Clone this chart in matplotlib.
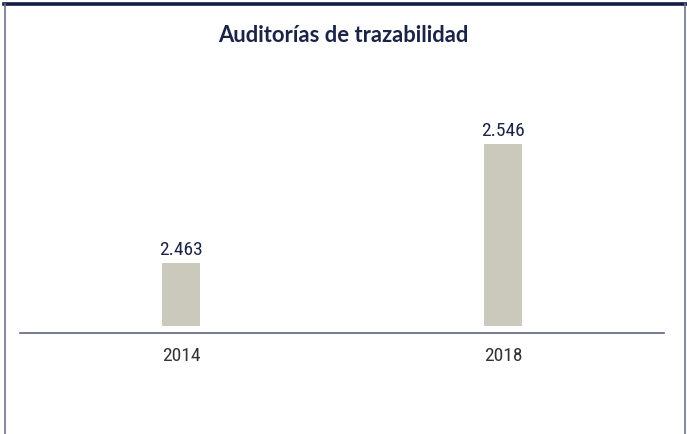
import matplotlib
matplotlib.use("Agg")
import matplotlib.pyplot as plt
from matplotlib.lines import Line2D

years = ["2014", "2018"]
audits = [2463, 2546]
value_labels = ["2.463", "2.546"]

NAVY = "#1b2447"
BAR = "#cbc9bb"
AXIS = "#5d6280"
FRAME = "#121c45"
NUM_FONT = ["Roboto Condensed", "DejaVu Sans"]
TITLE_FONT = ["Lato", "DejaVu Sans"]

fig = plt.figure(figsize=(6.87, 4.34), dpi=100)
W, H = 687, 434


def fx(px):
    return px / W


def fy(py):
    return 1 - py / H


ax = fig.add_axes([fx(20), fy(326), fx(664) - fx(20), fy(60) - fy(326)])
x = range(len(years))
ax.bar(x, audits, width=0.118, color=BAR, zorder=2)
ax.set_xlim(-0.5, 1.5)
ax.set_ylim(2419, 2604.6)

for xi, v, lab in zip(x, audits, value_labels):
    ax.annotate(lab, (xi, v), xytext=(0, 5.5), textcoords="offset points",
                ha="center", va="baseline", fontsize=14, color=NAVY,
                family=NUM_FONT)

for s in ["top", "left", "right"]:
    ax.spines[s].set_visible(False)
ax.spines["bottom"].set_position(("outward", 7 * 72 / 100))
ax.spines["bottom"].set_color(AXIS)
ax.spines["bottom"].set_linewidth(1.2)
ax.set_yticks([])
ax.set_xticks(list(x))
ax.set_xticklabels(years, fontsize=14, color="#333333", family=NUM_FONT)
ax.tick_params(axis="x", length=0, pad=10)

fig.text(0.5, fy(35), "Auditorías de trazabilidad", ha="center", va="center",
         fontsize=15.8, fontweight="bold", color=NAVY, family=TITLE_FONT)

# frame: thick rule on top, thin rules on the sides
fig.add_artist(Line2D([fx(4), fx(685.5)], [fy(3.5), fy(3.5)], transform=fig.transFigure,
                      color=FRAME, linewidth=2.6))
fig.add_artist(Line2D([fx(5), fx(5)], [fy(4), 0], transform=fig.transFigure,
                      color="#6e7390", linewidth=1.2))
fig.add_artist(Line2D([fx(684.5), fx(684.5)], [fy(4), 0], transform=fig.transFigure,
                      color="#6e7390", linewidth=1.2))

fig.savefig("out.png", dpi=100)
